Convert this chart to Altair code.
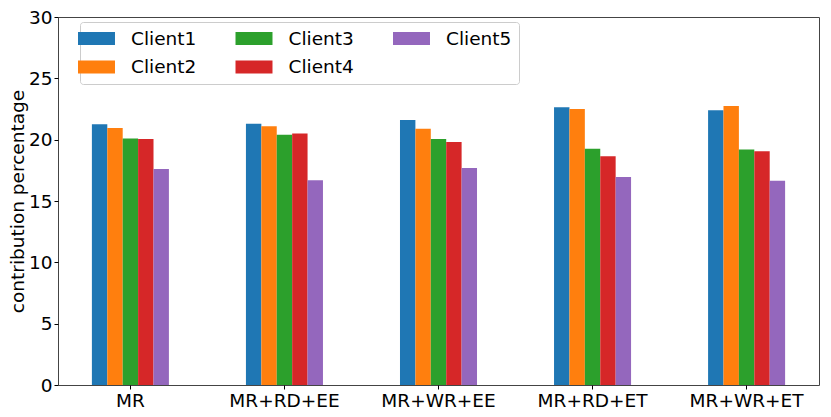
import altair as alt
import pandas as pd

groups = ["MR", "MR+RD+EE", "MR+WR+EE", "MR+RD+ET", "MR+WR+ET"]
clients = ["Client1", "Client2", "Client3", "Client4", "Client5"]
client1 = [21.25, 21.3, 21.6, 22.65, 22.4]
client2 = [20.95, 21.1, 20.9, 22.5, 22.75]
client3 = [20.1, 20.4, 20.05, 19.25, 19.2]
client4 = [20.05, 20.5, 19.8, 18.65, 19.05]
client5 = [17.6, 16.7, 17.7, 16.95, 16.65]
colors = ["#1f77b4", "#ff7f0e", "#2ca02c", "#d62728", "#9467bd"]
y_ticks = [0, 5, 10, 15, 20, 25, 30]

series = [client1, client2, client3, client4, client5]
rows = []
for c, vals in zip(clients, series):
    for g, v in zip(groups, vals):
        rows.append({"group": g, "client": c, "value": v})
df = pd.DataFrame(rows)

FS = 18.5
chart = alt.Chart(df).mark_bar().encode(
    x=alt.X("group:N", sort=groups,
            scale=alt.Scale(paddingInner=0.5, paddingOuter=0.22),
            axis=alt.Axis(title=None, labelAngle=0, labelFontSize=FS, labelColor="black",
                          tickColor="black", tickSize=4, labelPadding=2, domain=False)),
    xOffset=alt.XOffset("client:N", sort=clients,
                        scale=alt.Scale(paddingInner=0, paddingOuter=0)),
    y=alt.Y("value:Q", scale=alt.Scale(domain=[0, 30], nice=False),
            axis=alt.Axis(values=y_ticks, title="contribution percentage", grid=False,
                          labelFontSize=FS, titleFontSize=FS, titleFontWeight="normal",
                          labelColor="black", titleColor="black", tickColor="black",
                          tickSize=4, labelPadding=2, titlePadding=1, domain=False)),
    color=alt.Color("client:N",
                    scale=alt.Scale(domain=clients, range=colors),
                    legend=alt.Legend(title=None, orient="none", legendX=22, legendY=5,
                                      columns=3, direction="vertical",
                                      symbolType="M-2,-0.7L2,-0.7L2,0.7L-2,0.7Z",
                                      symbolSize=342, symbolStrokeWidth=0, symbolOpacity=1,
                                      labelFontSize=FS, labelColor="black", labelOffset=25,
                                      columnPadding=38.5, rowPadding=9.5, padding=7,
                                      strokeColor="#cccccc", fillColor="rgba(255,255,255,0.8)",
                                      cornerRadius=3)),
).properties(
    width=761, height=368,
    autosize=alt.AutoSizeParams(type="none"),
    padding={"left": 50, "top": 9, "right": 4, "bottom": 24},
).configure(
    font="DejaVu Sans"
).configure_view(stroke="#444444", strokeWidth=1)

chart.save("out.html", embed_options={"renderer": "svg", "actions": False})
